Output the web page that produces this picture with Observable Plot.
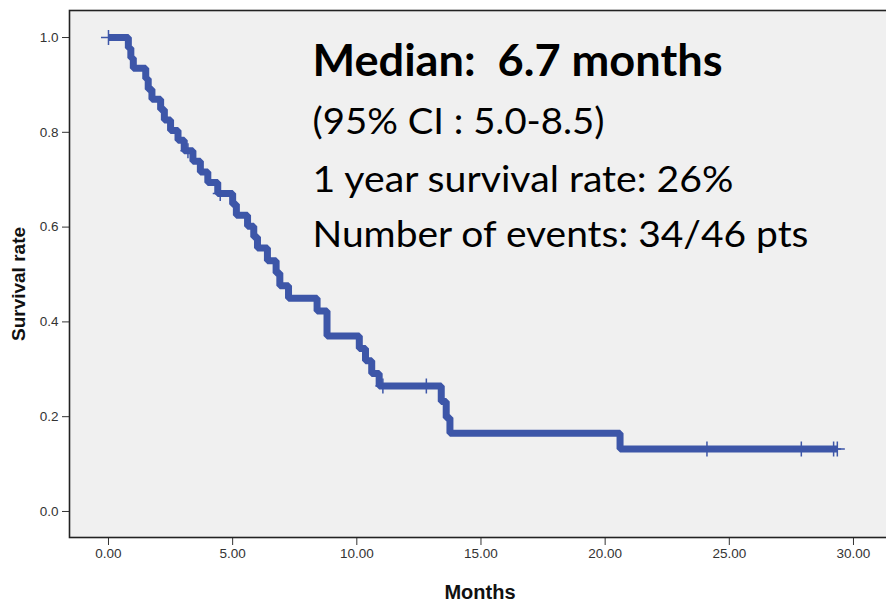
<!DOCTYPE html>
<html>
<head>
<meta charset="utf-8">
<script src="https://cdn.jsdelivr.net/npm/d3@7"></script>
<script src="https://cdn.jsdelivr.net/npm/@observablehq/plot@0.6"></script>
<style>
  html, body { margin: 0; padding: 0; background: #ffffff; }
  #chart svg text.ann { white-space: pre; }
</style>
</head>
<body>
<div id="chart"></div>
<script>
// Kaplan-Meier step points (time in months, survival after the step)
const stepTimes = [0, 0.8, 0.9, 1.0, 1.5, 1.6, 1.75, 2.1, 2.25, 2.5, 2.8, 3.05, 3.4, 3.7, 4.0, 4.4,
  5.0, 5.15, 5.6, 5.85, 6.0, 6.4, 6.75, 6.9, 7.25, 8.4, 8.8, 10.1, 10.35, 10.6, 10.9,
  13.4, 13.6, 13.75, 20.6, 29.35];
const stepSurvival = [1.0, 0.978, 0.957, 0.935, 0.913, 0.891, 0.870, 0.848, 0.826, 0.804, 0.783, 0.761,
  0.739, 0.716, 0.694, 0.671, 0.648, 0.625, 0.602, 0.579, 0.556, 0.529, 0.503, 0.476, 0.450,
  0.423, 0.370, 0.344, 0.318, 0.291, 0.265, 0.232, 0.198, 0.165, 0.132, 0.132];

// Censored observations
const censorTimes = [0, 3.2, 4.5, 11.05, 12.8, 24.1, 27.9, 29.2, 29.35];
const censorSurvival = [1.0, 0.761, 0.671, 0.265, 0.265, 0.132, 0.132, 0.132, 0.132];

// Axes
const xTicks = [0, 5, 10, 15, 20, 25, 30];
const yTicks = [0, 0.2, 0.4, 0.6, 0.8, 1.0];
const xTitle = "Months";
const yTitle = "Survival rate";

// Annotation lines
const annLines = [
  "Median:  6.7 months",
  "(95% CI : 5.0-8.5)",
  "1 year survival rate: 26%",
  "Number of events: 34/46 pts"
];

const steps = stepTimes.map((t, i) => ({t, s: stepSurvival[i]}));
const censors = censorTimes.map((t, i) => ({t, s: censorSurvival[i]}));

const plusSymbol = {
  draw(context, size) {
    const r = Math.sqrt(size / Math.PI);
    context.moveTo(-r, 0); context.lineTo(r, 0);
    context.moveTo(0, -r); context.lineTo(0, r);
  }
};

const blue = "#3d56a8";
const annStyle = [
  {dy: 65, size: 43, weight: "bold", width: 410},
  {dy: 123, size: 36, weight: "normal", width: 292},
  {dy: 181, size: 36, weight: "normal", width: 421},
  {dy: 236, size: 36, weight: "normal", width: 496}
];

const chart = Plot.plot({
  width: 886,
  height: 602,
  marginLeft: 69,
  marginRight: 0,
  marginTop: 10,
  marginBottom: 65,
  style: {fontFamily: "'Liberation Sans', Arial, sans-serif", fontSize: "13.5px", color: "#333", background: "transparent"},
  x: {domain: [-1.57, 31.33], ticks: xTicks, tickFormat: d => d.toFixed(2), tickSize: 8, tickPadding: 3, label: null},
  y: {domain: [-0.0549, 1.057], ticks: yTicks, tickFormat: d => d.toFixed(1), tickSize: 7, tickPadding: 4, label: null},
  marks: [
    Plot.frame({fill: "#f0f0f0", stroke: "#222", strokeWidth: 1.6, insetRight: -4}),
    Plot.line(steps, {x: "t", y: "s", curve: "step-after", stroke: blue, strokeWidth: 7, strokeLinejoin: "miter", strokeLinecap: "butt"}),
    Plot.dot(censors, {x: "t", y: "s", symbol: plusSymbol, r: 7.5, stroke: blue, strokeWidth: 1.5, fill: "none"}),
    Plot.text([yTitle], {text: d => d, frameAnchor: "left", textAnchor: "middle", lineAnchor: "middle", dx: -51, dy: 10, rotate: -90, fontWeight: "bold", fontSize: 19, fill: "#111"}),
    Plot.text([xTitle], {text: d => d, frameAnchor: "bottom", textAnchor: "middle", lineAnchor: "middle", dy: 55, dx: 2, fontWeight: "bold", fontSize: 20, fill: "#111"}),
    ...annLines.map((line, i) => Plot.text([line], {
      text: d => d, frameAnchor: "top-left", textAnchor: "start", lineAnchor: "bottom",
      dx: 243, dy: annStyle[i].dy, fontSize: annStyle[i].size, fontWeight: annStyle[i].weight,
      fontFamily: "Lato, 'Open Sans', sans-serif", fill: "#000"
    }))
  ]
});

document.getElementById("chart").appendChild(chart);

// fit annotation widths
chart.querySelectorAll("text").forEach(el => {
  const idx = annLines.indexOf(el.textContent);
  if (idx >= 0) {
    el.setAttribute("class", "ann");
    el.style.whiteSpace = "pre";
    el.setAttribute("textLength", annStyle[idx].width);
    el.setAttribute("lengthAdjust", "spacingAndGlyphs");
  }
});
</script>
</body>
</html>
